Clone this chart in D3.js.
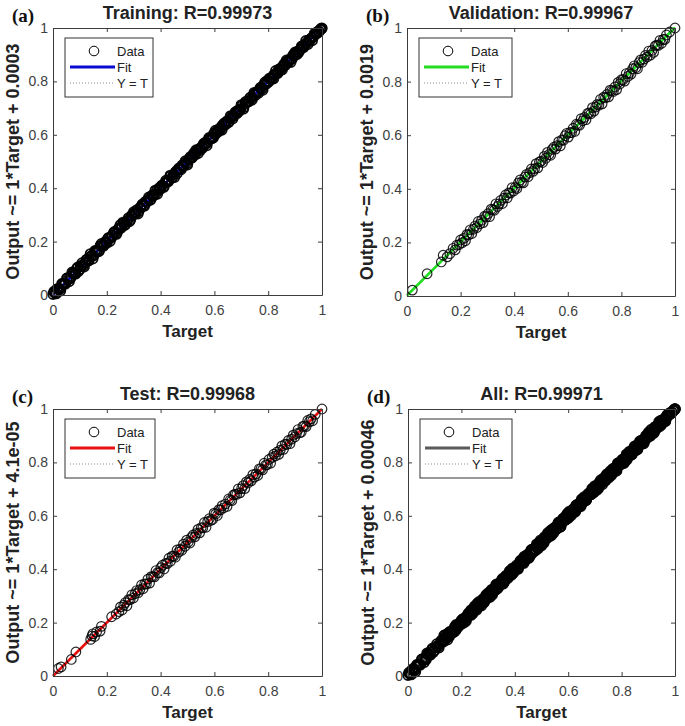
<!DOCTYPE html>
<html>
<head>
<meta charset="utf-8">
<script src="https://cdn.jsdelivr.net/npm/d3@7"></script>
<style>
  html, body { margin: 0; padding: 0; background: #fff; }
  svg { display: block; }
</style>
</head>
<body>
<svg id="chart" width="685" height="726"></svg>
<script>
// ---------------- DATA ----------------
const panelLabels = ["(a)", "(b)", "(c)", "(d)"];
const titles = ["Training: R=0.99973", "Validation: R=0.99967", "Test: R=0.99968", "All: R=0.99971"];
const yLabels = [
  "Output ~= 1*Target + 0.0003",
  "Output ~= 1*Target + 0.0019",
  "Output ~= 1*Target + 4.1e-05",
  "Output ~= 1*Target + 0.00046"
];
const xLabel = "Target";
const fitSlopes = [1, 1, 1, 1];
const fitIntercepts = [0.0003, 0.0019, 0.000041, 0.00046];
const tickValues = [0, 0.2, 0.4, 0.6, 0.8, 1];
const tickLabels = ["0", "0.2", "0.4", "0.6", "0.8", "1"];
const legendLabels = ["Data", "Fit", "Y = T"];

const trainTarget = [0.000,0.004,0.009,0.015,0.021,0.027,0.033,0.040,0.046,0.052,0.058,0.064,0.071,0.077,0.083,0.089,0.095,0.102,0.108,0.114,0.120,0.126,0.133,0.139,0.145,0.151,0.157,0.164,0.170,0.176,0.182,0.188,0.195,0.201,0.207,0.213,0.219,0.226,0.232,0.238,0.244,0.250,0.257,0.263,0.269,0.275,0.281,0.288,0.294,0.300,0.306,0.312,0.319,0.325,0.331,0.337,0.343,0.350,0.356,0.362,0.368,0.374,0.381,0.387,0.393,0.399,0.405,0.412,0.418,0.424,0.430,0.436,0.443,0.449,0.455,0.461,0.467,0.474,0.480,0.486,0.492,0.498,0.505,0.511,0.517,0.523,0.529,0.536,0.542,0.548,0.554,0.560,0.567,0.573,0.579,0.585,0.591,0.598,0.604,0.610,0.616,0.622,0.629,0.635,0.641,0.647,0.653,0.660,0.666,0.672,0.678,0.684,0.691,0.697,0.703,0.709,0.715,0.722,0.728,0.734,0.740,0.746,0.753,0.759,0.765,0.771,0.777,0.784,0.790,0.796,0.802,0.808,0.815,0.821,0.827,0.833,0.839,0.846,0.852,0.858,0.864,0.870,0.877,0.883,0.889,0.895,0.901,0.908,0.914,0.920,0.926,0.932,0.939,0.945,0.951,0.957,0.963,0.970,0.976,0.982,0.988,0.994,0.998,1.000,
  0.004,0.012,0.020,0.028,0.036,0.044,0.052,0.060,0.068,0.076,0.084,0.092,0.100,0.108,0.116,0.124,0.132,0.140,0.148,0.156,0.164,0.172,0.180,0.188,0.196,0.204,0.212,0.220,0.228,0.236,0.244,0.252,0.260,0.268,0.276,0.284,0.292,0.300,0.308,0.316,0.324,0.332,0.340,0.348,0.356,0.364,0.372,0.380,0.388,0.396,0.404,0.412,0.420,0.428,0.436,0.444,0.452,0.460,0.468,0.476,0.484,0.492,0.500,0.508,0.516,0.524,0.532,0.540,0.548,0.556,0.564,0.572,0.580,0.588,0.596,0.604,0.612,0.620,0.628,0.636,0.644,0.652,0.660,0.668,0.676,0.684,0.692,0.700,0.708,0.716,0.724,0.732,0.740,0.748,0.756,0.764,0.772,0.780,0.788,0.796,0.804,0.812,0.820,0.828,0.836,0.844,0.852,0.860,0.868,0.876,0.884,0.892,0.900,0.908,0.916,0.924,0.932,0.940,0.948,0.956,0.964,0.972,0.980,0.988,0.996];
const trainOutput = [0.003,0.010,0.007,0.023,0.022,0.023,0.042,0.042,0.041,0.063,0.061,0.061,0.085,0.081,0.081,0.099,0.089,0.107,0.120,0.111,0.121,0.133,0.128,0.154,0.147,0.147,0.163,0.164,0.163,0.185,0.185,0.186,0.200,0.195,0.215,0.214,0.216,0.233,0.234,0.233,0.248,0.262,0.256,0.269,0.265,0.278,0.289,0.282,0.296,0.305,0.304,0.319,0.314,0.326,0.335,0.334,0.349,0.349,0.359,0.356,0.373,0.376,0.377,0.394,0.393,0.396,0.411,0.407,0.421,0.425,0.428,0.444,0.439,0.451,0.460,0.455,0.470,0.474,0.486,0.483,0.496,0.493,0.507,0.518,0.515,0.524,0.525,0.541,0.545,0.542,0.556,0.566,0.566,0.569,0.583,0.586,0.586,0.605,0.602,0.613,0.616,0.618,0.635,0.637,0.638,0.652,0.648,0.661,0.670,0.670,0.685,0.680,0.693,0.696,0.708,0.703,0.718,0.723,0.725,0.740,0.738,0.750,0.748,0.761,0.765,0.776,0.773,0.787,0.789,0.802,0.799,0.810,0.810,0.825,0.828,0.831,0.845,0.842,0.855,0.858,0.861,0.875,0.876,0.885,0.885,0.901,0.899,0.911,0.909,0.921,0.930,0.929,0.941,0.944,0.954,0.955,0.964,0.969,0.978,0.980,0.989,0.993,0.998,0.999,
  0.013,0.005,0.023,0.016,0.042,0.042,0.063,0.051,0.069,0.083,0.079,0.104,0.097,0.112,0.106,0.132,0.131,0.145,0.136,0.166,0.166,0.166,0.192,0.184,0.196,0.211,0.201,0.223,0.237,0.228,0.249,0.250,0.272,0.262,0.277,0.275,0.298,0.311,0.305,0.304,0.328,0.340,0.333,0.350,0.366,0.359,0.371,0.392,0.378,0.402,0.407,0.404,0.429,0.424,0.448,0.442,0.441,0.465,0.475,0.470,0.485,0.502,0.488,0.512,0.513,0.532,0.543,0.531,0.550,0.551,0.570,0.560,0.589,0.588,0.589,0.616,0.610,0.624,0.618,0.643,0.647,0.646,0.671,0.660,0.677,0.689,0.688,0.712,0.697,0.724,0.723,0.738,0.731,0.758,0.758,0.757,0.776,0.768,0.797,0.793,0.811,0.813,0.810,0.840,0.831,0.847,0.844,0.866,0.879,0.874,0.872,0.897,0.909,0.902,0.916,0.932,0.928,0.952,0.939,0.958,0.953,0.979,0.984,0.985,0.997];

const valTarget = [0.020,0.075,0.128,0.135,0.150,0.160,0.172,0.180,0.186,0.195,
  0.200,0.206,0.212,0.218,0.224,0.230,0.236,0.242,0.248,0.254,0.260,0.266,0.272,0.278,0.284,0.290,0.296,0.302,0.308,0.314,0.320,0.326,0.332,0.338,0.344,0.350,0.356,0.362,0.368,0.374,0.380,0.386,0.392,0.398,0.404,0.410,0.416,0.422,0.428,0.434,0.440,0.446,0.452,0.458,0.464,0.470,0.476,0.482,0.488,0.494,0.500,0.506,0.512,0.518,0.524,0.530,0.536,0.542,0.548,0.554,0.560,0.566,0.572,0.578,0.584,0.590,0.596,0.602,0.608,0.614,0.620,0.626,0.632,0.638,0.644,0.650,0.656,0.662,0.668,0.674,0.680,0.686,0.692,0.698,0.704,0.710,0.716,0.722,0.728,0.734,0.740,0.746,0.752,0.758,0.764,0.770,0.776,0.782,0.788,0.794,0.800,0.806,0.812,0.818,0.824,0.830,0.836,0.842,0.848,0.854,0.860,0.866,0.872,0.878,0.884,0.890,0.896,0.902,0.908,0.914,0.920,0.926,0.932,0.938,0.944,0.950,0.956,0.962,0.968,
  0.980,1.000];
const valOutput = [0.022,0.083,0.127,0.152,0.146,0.158,0.178,0.172,0.190,0.192,
  0.209,0.199,0.215,0.206,0.230,0.228,0.247,0.233,0.249,0.261,0.255,0.278,0.269,0.282,0.274,0.298,0.295,0.307,0.296,0.324,0.322,0.320,0.344,0.334,0.344,0.357,0.345,0.365,0.377,0.366,0.385,0.384,0.404,0.392,0.405,0.401,0.422,0.433,0.425,0.422,0.444,0.454,0.445,0.460,0.474,0.465,0.475,0.494,0.478,0.500,0.503,0.498,0.521,0.514,0.536,0.528,0.525,0.547,0.555,0.548,0.561,0.576,0.560,0.582,0.581,0.598,0.607,0.593,0.610,0.609,0.626,0.614,0.641,0.638,0.637,0.662,0.654,0.666,0.658,0.681,0.683,0.680,0.703,0.690,0.705,0.715,0.712,0.734,0.717,0.742,0.739,0.752,0.743,0.768,0.766,0.763,0.780,0.770,0.797,0.791,0.807,0.807,0.802,0.830,0.819,0.833,0.828,0.848,0.859,0.852,0.848,0.871,0.881,0.872,0.884,0.898,0.892,0.914,0.899,0.916,0.909,0.933,0.936,0.935,0.954,0.943,0.957,0.957,0.974,
  0.985,1.000];

const testTarget = [0.020,0.030,0.068,0.085,0.140,0.145,0.148,0.155,0.162,0.175,0.180,0.218,0.235,
  0.245,0.251,0.257,0.263,0.269,0.275,0.281,0.287,0.293,0.299,0.305,0.311,0.317,0.323,0.329,0.335,0.341,0.347,0.353,0.359,0.365,0.371,0.377,0.383,0.389,0.395,0.401,0.407,0.413,0.419,0.425,0.431,0.437,0.443,0.449,0.455,0.461,0.467,0.473,0.479,0.485,0.491,0.497,0.503,0.509,0.515,0.521,0.527,0.533,0.539,0.545,0.551,0.557,0.563,0.569,0.575,0.581,0.587,0.593,0.599,0.605,0.611,0.617,0.623,0.629,0.635,0.641,0.647,0.653,0.659,0.665,0.671,0.677,0.683,0.689,0.695,0.701,0.707,0.713,0.719,0.725,0.731,0.737,0.743,0.749,0.755,0.761,0.767,0.773,0.779,0.785,0.791,0.797,0.803,0.809,0.815,0.821,0.827,0.833,0.839,0.845,0.851,0.857,0.863,0.869,0.875,0.881,0.887,0.893,0.899,0.905,0.911,0.917,0.923,0.929,0.935,0.941,0.947,0.953,0.959,0.965,
  0.975,1.000];
const testOutput = [0.028,0.034,0.062,0.090,0.137,0.150,0.158,0.148,0.165,0.168,0.186,0.222,0.232,
  0.241,0.259,0.247,0.265,0.275,0.263,0.286,0.286,0.304,0.292,0.308,0.320,0.312,0.323,0.341,0.327,0.345,0.344,0.363,0.348,0.372,0.372,0.371,0.395,0.387,0.386,0.406,0.415,0.401,0.422,0.421,0.441,0.430,0.449,0.449,0.445,0.472,0.464,0.475,0.471,0.494,0.486,0.509,0.502,0.498,0.519,0.528,0.521,0.534,0.549,0.536,0.556,0.555,0.575,0.557,0.578,0.589,0.583,0.586,0.610,0.607,0.601,0.623,0.622,0.638,0.630,0.644,0.635,0.663,0.659,0.657,0.678,0.681,0.680,0.701,0.686,0.702,0.713,0.702,0.727,0.723,0.736,0.731,0.754,0.745,0.757,0.751,0.776,0.776,0.772,0.797,0.790,0.792,0.811,0.797,0.819,0.831,0.824,0.839,0.830,0.846,0.862,0.849,0.868,0.867,0.882,0.870,0.887,0.902,0.895,0.908,0.923,0.911,0.913,0.935,0.937,0.934,0.957,0.952,0.963,0.956,
  0.980,1.000];

// "All" = every sample of the three subsets
const allTarget = trainTarget.concat(valTarget, testTarget);
const allOutput = trainOutput.concat(valOutput, testOutput);

const seriesTargets = [trainTarget, valTarget, testTarget, allTarget];
const seriesOutputs = [trainOutput, valOutput, testOutput, allOutput];

// ---------------- LAYOUT / STYLE ----------------
const boxes = [
  { left: 53, top: 28, width: 269, height: 267 },
  { left: 407, top: 28, width: 268, height: 268 },
  { left: 53, top: 409, width: 269, height: 267 },
  { left: 408, top: 409, width: 267, height: 267 }
];
const legendWidths = [88, 93, 90, 92];
const fitColors = ["#0a0ad0", "#22dd22", "#e81010", "#5a5a5a"];
const markerStroke = [1.8, 1.2, 1.2, 1.8];
const markerOpacity = [0.95, 0.85, 0.85, 0.95];
const axisColor = "#3c3c3c";
const sans = "'Liberation Sans', Arial, Helvetica, sans-serif";
const serif = "'Liberation Serif', 'Times New Roman', serif";

const svg = d3.select("#chart");

boxes.forEach((b, i) => {
  const g = svg.append("g").attr("transform", `translate(${b.left},${b.top})`);
  const x = d3.scaleLinear().domain([0, 1]).range([0, b.width]);
  const y = d3.scaleLinear().domain([0, 1]).range([b.height, 0]);

  const clipId = "clip" + i;
  g.append("clipPath").attr("id", clipId)
    .append("rect").attr("x", -6).attr("y", -6).attr("width", b.width + 12).attr("height", b.height + 12);

  const plot = g.append("g").attr("clip-path", `url(#${clipId})`);

  // Y = T dotted
  plot.append("line")
    .attr("x1", x(0)).attr("y1", y(0)).attr("x2", x(1)).attr("y2", y(1))
    .attr("stroke", "#8a8a8a").attr("stroke-width", 1).attr("stroke-dasharray", "1,2");

  // Fit line
  plot.append("line")
    .attr("x1", x(0)).attr("y1", y(fitIntercepts[i]))
    .attr("x2", x(1)).attr("y2", y(fitSlopes[i] * 1 + fitIntercepts[i]))
    .attr("stroke", fitColors[i]).attr("stroke-width", 2.6);

  // Data circles
  const pts = seriesTargets[i].map((t, k) => [t, seriesOutputs[i][k]]);
  plot.selectAll("circle.d").data(pts).enter().append("circle")
    .attr("class", "d")
    .attr("cx", d => x(d[0])).attr("cy", d => y(d[1]))
    .attr("r", 4.8)
    .attr("fill", "none")
    .attr("stroke", "#000")
    .attr("stroke-opacity", markerOpacity[i])
    .attr("stroke-width", markerStroke[i]);

  // Axes (ticks inward on all sides)
  const fmt = (d) => tickLabels[tickValues.indexOf(d)];
  const bottom = g.append("g").attr("transform", `translate(0,${b.height})`)
    .call(d3.axisBottom(x).tickValues(tickValues).tickFormat(fmt).tickSizeInner(-4).tickSizeOuter(0).tickPadding(10));
  const left = g.append("g")
    .call(d3.axisLeft(y).tickValues(tickValues).tickFormat(fmt).tickSizeInner(-4).tickSizeOuter(0).tickPadding(5));
  const top = g.append("g")
    .call(d3.axisTop(x).tickValues(tickValues).tickFormat("").tickSizeInner(-4).tickSizeOuter(0));
  const right = g.append("g").attr("transform", `translate(${b.width},0)`)
    .call(d3.axisRight(y).tickValues(tickValues).tickFormat("").tickSizeInner(-4).tickSizeOuter(0));
  [bottom, left, top, right].forEach(a => {
    a.selectAll("path, line").attr("stroke", axisColor).attr("stroke-width", 1);
    a.selectAll("text").attr("fill", "#404040").style("font-family", sans).style("font-size", "14px");
  });

  // Legend
  const lw = legendWidths[i], lh = 59;
  const lg = g.append("g").attr("transform", "translate(12,10)");
  lg.append("rect").attr("width", lw).attr("height", lh)
    .attr("fill", "#fff").attr("stroke", "#333").attr("stroke-width", 1);
  lg.append("circle").attr("cx", 29).attr("cy", 13).attr("r", 4.8)
    .attr("fill", "none").attr("stroke", "#000").attr("stroke-width", 1);
  lg.append("line").attr("x1", 5).attr("x2", 50).attr("y1", 29).attr("y2", 29)
    .attr("stroke", fitColors[i]).attr("stroke-width", 3);
  lg.append("line").attr("x1", 5).attr("x2", 49).attr("y1", 45).attr("y2", 45)
    .attr("stroke", "#8a8a8a").attr("stroke-width", 1).attr("stroke-dasharray", "1,2");
  legendLabels.forEach((lab, k) => {
    lg.append("text").attr("x", 52).attr("y", 13 + k * 16).attr("dy", "0.35em")
      .attr("fill", "#222").style("font-family", sans).style("font-size", "13px").text(lab);
  });

  // Title
  g.append("text").attr("x", b.width / 2).attr("y", -9)
    .attr("text-anchor", "middle").attr("fill", "#222")
    .style("font-family", sans).style("font-size", "18px").style("font-weight", "bold")
    .text(titles[i]);

  // Panel label
  g.append("text").attr("x", -41).attr("y", -6)
    .attr("fill", "#111")
    .style("font-family", serif).style("font-size", "19px").style("font-weight", "bold")
    .text(panelLabels[i]);

  // X label
  g.append("text").attr("x", b.width / 2).attr("y", b.height + 42)
    .attr("text-anchor", "middle").attr("fill", "#222")
    .style("font-family", sans).style("font-size", "17px").style("font-weight", "bold")
    .text(xLabel);

  // Y label
  g.append("text")
    .attr("transform", `translate(-34,${b.height / 2}) rotate(-90)`)
    .attr("text-anchor", "middle").attr("fill", "#222")
    .style("font-family", sans).style("font-size", "18px").style("font-weight", "bold")
    .text(yLabels[i]);
});
</script>
</body>
</html>
